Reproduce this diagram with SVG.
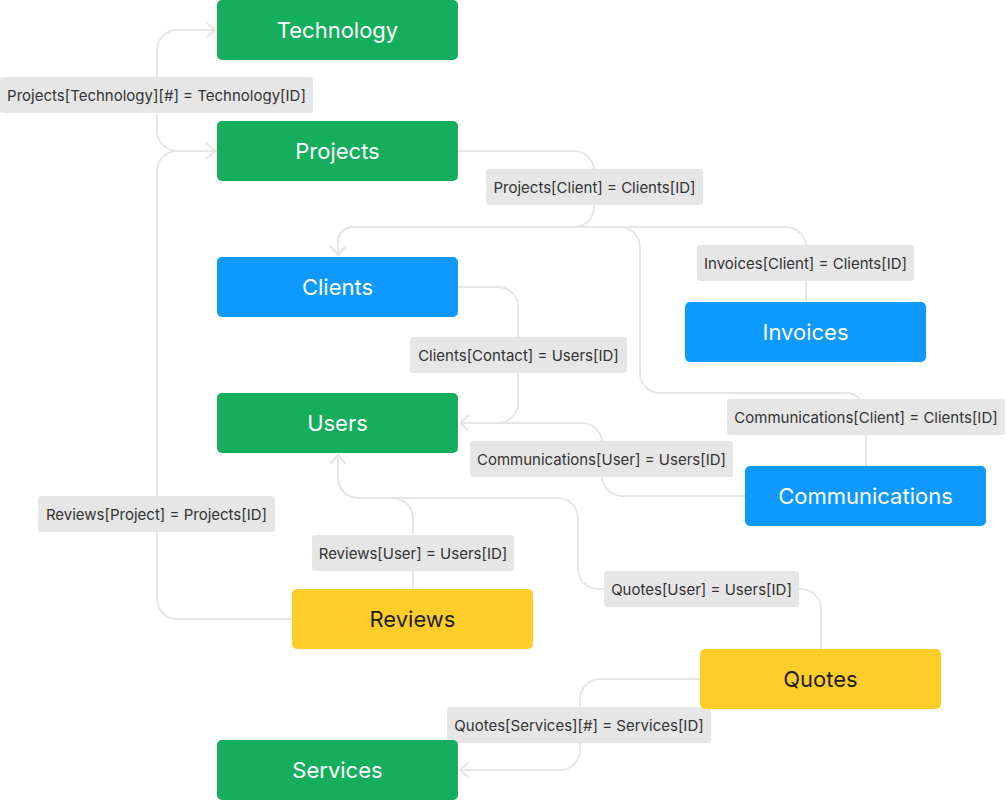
<svg xmlns="http://www.w3.org/2000/svg" width="1006" height="800" viewBox="0 0 1006 800">
<defs>
<marker id="arr" viewBox="0 0 10 16" refX="9" refY="8" markerWidth="10" markerHeight="16" markerUnits="userSpaceOnUse" orient="auto">
<path d="M1,1 L9,8 L1,15" fill="none" stroke="#e6e6e6" stroke-width="2" stroke-linecap="round" stroke-linejoin="round"/>
</marker>
<style>
.c{fill:none;stroke:#e6e6e6;stroke-width:2}
.g{fill:#14ae5c}.b{fill:#0d99ff}.y{fill:#ffcd29}
.nt{font-family:Inter,"Noto Sans",sans-serif;font-size:22px;text-anchor:middle;dominant-baseline:central}
.w{fill:#ffffff}.d{fill:#1e1e1e}
.lb{fill:#e6e6e6}
.lt{font-family:Inter,"Noto Sans",sans-serif;font-size:15px;fill:#333333;text-anchor:middle;dominant-baseline:central}
</style>
</defs>
<g id="connectors">
<path class="c" d="M217,151 H177 A20,20 0 0 1 157,131 V50 A20,20 0 0 1 177,30 H215" marker-end="url(#arr)"/>
<path class="c" d="M292,619 H177 A20,20 0 0 1 157,599 V171 A20,20 0 0 1 177,151 H215" marker-end="url(#arr)"/>
<path class="c" d="M458,151 H574 A20,20 0 0 1 594,171 V207 A20,20 0 0 1 574,227 H353 A15,15 0 0 0 338,242 V255" marker-end="url(#arr)"/>
<path class="c" d="M806,302 V247 A20,20 0 0 0 786,227 H353 A15,15 0 0 0 338,242 V255" marker-end="url(#arr)"/>
<path class="c" d="M866,466 V413 A20,20 0 0 0 846,393 H660 A20,20 0 0 1 640,373 V247 A20,20 0 0 0 620,227 H353 A15,15 0 0 0 338,242 V255" marker-end="url(#arr)"/>
<path class="c" d="M458,287 H498 A20,20 0 0 1 518,307 V403 A20,20 0 0 1 498,423 H460" marker-end="url(#arr)"/>
<path class="c" d="M745,496 H622 A20,20 0 0 1 602,476 V443 A20,20 0 0 0 582,423 H460" marker-end="url(#arr)"/>
<path class="c" d="M413,589 V518 A20,20 0 0 0 393,498 H358 A20,20 0 0 1 338,478 V455" marker-end="url(#arr)"/>
<path class="c" d="M821,649 V609 A20,20 0 0 0 801,589 H598 A20,20 0 0 1 578,569 V518 A20,20 0 0 0 558,498 H358 A20,20 0 0 1 338,478 V455" marker-end="url(#arr)"/>
<path class="c" d="M700,679 H600 A20,20 0 0 0 580,699 V750 A20,20 0 0 1 560,770 H460" marker-end="url(#arr)"/>
</g>
<g id="labels">
<rect class="lb" x="0" y="77" width="313" height="36" rx="3"/><text class="lt" x="156.5" y="95">Projects[Technology][#] = Technology[ID]</text>
<rect class="lb" x="486" y="169" width="217" height="36" rx="3"/><text class="lt" x="594.5" y="187">Projects[Client] = Clients[ID]</text>
<rect class="lb" x="697" y="245" width="217" height="36" rx="3"/><text class="lt" x="805.5" y="263">Invoices[Client] = Clients[ID]</text>
<rect class="lb" x="410" y="337" width="217" height="36" rx="3"/><text class="lt" x="518.5" y="355">Clients[Contact] = Users[ID]</text>
<rect class="lb" x="727" y="399" width="278" height="36" rx="3"/><text class="lt" x="866" y="417">Communications[Client] = Clients[ID]</text>
<rect class="lb" x="470" y="441" width="263" height="36" rx="3"/><text class="lt" x="601.5" y="459">Communications[User] = Users[ID]</text>
<rect class="lb" x="38" y="496" width="237" height="36" rx="3"/><text class="lt" x="156.5" y="514">Reviews[Project] = Projects[ID]</text>
<rect class="lb" x="312" y="535" width="202" height="36" rx="3"/><text class="lt" x="413" y="553">Reviews[User] = Users[ID]</text>
<rect class="lb" x="604" y="571" width="195" height="36" rx="3"/><text class="lt" x="701.5" y="589">Quotes[User] = Users[ID]</text>
<rect class="lb" x="447" y="707" width="264" height="36" rx="3"/><text class="lt" x="579" y="725">Quotes[Services][#] = Services[ID]</text>
</g>
<g id="technology"><rect class="g" x="217" y="0" width="241" height="60" rx="5"/><text class="nt w" x="337.5" y="30">Technology</text></g>
<g id="projects"><rect class="g" x="217" y="121" width="241" height="60" rx="5"/><text class="nt w" x="337.5" y="151">Projects</text></g>
<g id="clients"><rect class="b" x="217" y="257" width="241" height="60" rx="5"/><text class="nt w" x="337.5" y="287">Clients</text></g>
<g id="users"><rect class="g" x="217" y="393" width="241" height="60" rx="5"/><text class="nt w" x="337.5" y="423">Users</text></g>
<g id="invoices"><rect class="b" x="685" y="302" width="241" height="60" rx="5"/><text class="nt w" x="805.5" y="332">Invoices</text></g>
<g id="communications"><rect class="b" x="745" y="466" width="241" height="60" rx="5"/><text class="nt w" x="865.5" y="496">Communications</text></g>
<g id="reviews"><rect class="y" x="292" y="589" width="241" height="60" rx="5"/><text class="nt d" x="412.5" y="619">Reviews</text></g>
<g id="quotes"><rect class="y" x="700" y="649" width="241" height="60" rx="5"/><text class="nt d" x="820.5" y="679">Quotes</text></g>
<g id="services"><rect class="g" x="217" y="740" width="241" height="60" rx="5"/><text class="nt w" x="337.5" y="770">Services</text></g>
</svg>
